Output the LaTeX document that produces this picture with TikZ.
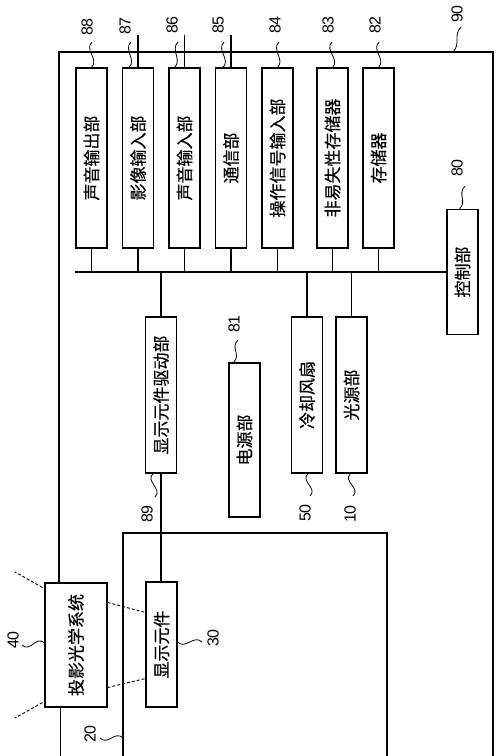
\documentclass[tikz,border=0pt]{standalone}
\usepackage{fontspec}
\setmainfont{Liberation Sans}
\newfontfamily\cjk[FakeBold=0.4]{Noto Sans CJK SC}
\usetikzlibrary{calc}
\begin{document}
\begin{tikzpicture}[x=1pt,y=-1pt,
  blk/.style={draw, line width=1.1pt, inner sep=0pt, minimum width=31pt, font=\cjk\fontsize{17}{17}\selectfont},
  lbl/.style={inner sep=0pt, font=\fontsize{16}{16}\selectfont},
  squig/.style={line width=0.8pt},
  ln/.style={line width=1.1pt},
  dsh/.style={line width=0.9pt, dash pattern=on 3pt off 2pt}]
\useasboundingbox (0,0) rectangle (500,756);
\fill[white] (0,0) rectangle (500,756);

% top row of boxes
\node[blk, minimum height=180pt] (b88) at (91.5,158) {\rotatebox{90}{声音输出部}};
\node[blk, minimum height=180pt] (b87) at (138,158) {\rotatebox{90}{影像输入部}};
\node[blk, minimum height=180pt] (b86) at (184.5,158) {\rotatebox{90}{声音输入部}};
\node[blk, minimum height=180pt] (b85) at (231,158) {\rotatebox{90}{通信部}};
\node[blk, minimum height=180pt] (b84) at (277.5,158) {\rotatebox{90}{操作信号输入部}};
\node[blk, minimum height=180pt] (b83) at (332.5,158) {\rotatebox{90}{非易失性存储器}};
\node[blk, minimum height=180pt] (b82) at (378.5,158) {\rotatebox{90}{存储器}};

% control
\node[blk, minimum height=125pt] (b80) at (462.5,272) {\rotatebox{90}{控制部}};

% lower boxes
\node[blk, minimum height=156pt] (b89) at (161,395) {\rotatebox{90}{显示元件驱动部}};
\node[blk, minimum height=154pt] (b81) at (244.5,440) {\rotatebox{90}{电源部}};
\node[blk, minimum height=156pt] (b50) at (307,395) {\rotatebox{90}{冷却风扇}};
\node[blk, minimum height=156pt] (b10) at (351.5,395) {\rotatebox{90}{光源部}};
\node[blk, minimum height=125pt] (b30) at (161.5,644.5) {\rotatebox{90}{显示元件}};
\node[blk, minimum height=124pt, minimum width=62pt] (b40) at (76,645) {\rotatebox{90}{投影光学系统}};

% labels
\node[lbl] (l88) at (87,27) {\rotatebox{90}{88}};
\node[lbl] (l87) at (125,26) {\rotatebox{90}{87}};
\node[lbl] (l86) at (172,25) {\rotatebox{90}{86}};
\node[lbl] (l85) at (218,25) {\rotatebox{90}{85}};
\node[lbl] (l84) at (275,25) {\rotatebox{90}{84}};
\node[lbl] (l83) at (328,25) {\rotatebox{90}{83}};
\node[lbl] (l82) at (375,25) {\rotatebox{90}{82}};
\node[lbl] (l90) at (457,14) {\rotatebox{90}{90}};
\node[lbl] (l80) at (457,168) {\rotatebox{90}{80}};
\node[lbl] (l81) at (234,324) {\rotatebox{90}{81}};
\node[lbl] (l89) at (147,514) {\rotatebox{90}{89}};
\node[lbl] (l50) at (305,513) {\rotatebox{90}{50}};
\node[lbl] (l10) at (350,514) {\rotatebox{90}{10}};
\node[lbl] (l20) at (90,734) {\rotatebox{90}{20}};
\node[lbl] (l30) at (213,638) {\rotatebox{90}{30}};
\node[lbl] (l40) at (13,640) {\rotatebox{90}{40}};

% outer frame 90
\coordinate (f90a) at (59,52);
\coordinate (f90b) at (493,52);
\coordinate (f90c) at (493,756);
\draw[ln] (f90a |- b40.north) -- (f90a) -- (f90b) -- (f90c);
\draw[ln] ($(b40.south west)+(16,0)$) -- ++(0,49);

% frame 20
\coordinate (f20a) at (123,756);
\coordinate (f20b) at (123,533);
\coordinate (f20c) at (387,533);
\coordinate (f20d) at (387,756);
\draw[ln] (f20a) -- (f20b) -- (f20c) -- (f20d);

% external lines
\draw[ln] (b87.north) -- ++(0,-32);
\draw[ln] (b86.north) -- ++(0,-32);
\draw[ln] (b85.north) -- ++(0,-32);

% bus
\coordinate (busL) at (75,272);
\draw[ln] (busL) -- (b80.west);
\foreach \b in {b88,b87,b86,b85,b84,b83,b82}{
  \draw[ln] (\b.south) -- (\b.south |- busL);
}
\draw[ln] (b89.north) -- (b89.north |- busL);
\draw[ln] (b50.north) -- (b50.north |- busL);
\draw[ln] (b10.north) -- (b10.north |- busL);
\draw[ln] (b89.south) -- (b89.south |- b30.north);

% dashed light paths
\draw[dsh] ($(b40.north east)+(0,20)$) -- ($(b30.north west)+(0,31)$);
\draw[dsh] ($(b40.south east)+(0,-20)$) -- ($(b30.south west)+(0,-29)$);
\coordinate (r1) at (15,572);
\coordinate (r2) at (15,718);
\draw[dsh] ($(b40.north west)+(-2,5)$) -- (r1);
\draw[dsh] ($(b40.south west)+(-2,-5)$) -- (r2);

% squiggle leader lines
\coordinate (s88) at (92,42);
\coordinate (s87) at (131,42);
\coordinate (s86) at (178,42);
\coordinate (s85) at (224,42);
\coordinate (s84) at (279,42);
\coordinate (s83) at (332,42);
\coordinate (s82) at (379,42);
\draw[squig] (s88) .. controls +(-8,8) and +(8,-8) .. (b88.north);
\draw[squig] (s87) .. controls +(-8,8) and +(8,-8) .. ($(b87.north)+(-9,0)$);
\draw[squig] (s86) .. controls +(-8,8) and +(8,-8) .. ($(b86.north)+(-10,0)$);
\draw[squig] (s85) .. controls +(-8,8) and +(8,-8) .. ($(b85.north)+(-8,0)$);
\draw[squig] (s84) .. controls +(-8,8) and +(8,-8) .. (b84.north);
\draw[squig] (s83) .. controls +(-8,8) and +(8,-8) .. (b83.north);
\draw[squig] (s82) .. controls +(-8,8) and +(8,-8) .. (b82.north);
\coordinate (s90) at (461,27);
\draw[squig] (s90) .. controls +(-8,8) and +(8,-8) .. (f90b -| 453,0);
\coordinate (s80) at (465,186);
\draw[squig] (s80) .. controls +(-8,8) and +(8,-8) .. ($(b80.north)+(-3,0)$);
\coordinate (s81) at (238,340);
\draw[squig] (s81) .. controls +(-8,8) and +(8,-8) .. ($(b81.north)+(-11,0)$);
\coordinate (s89) at (155,497);
\draw[squig] ($(b89.south)+(-8,0)$) .. controls +(-8,8) and +(8,-8) .. (s89);
\coordinate (s50) at (310,496);
\draw[squig] ($(b50.south)+(1,0)$) .. controls +(-8,8) and +(8,-8) .. (s50);
\coordinate (s10) at (353,496);
\draw[squig] ($(b10.south)+(-1,0)$) .. controls +(-8,8) and +(8,-8) .. (s10);
\coordinate (s20) at (100,738);
\draw[squig] (s20) .. controls +(8,8) and +(-8,-8) .. (f20b |- s20);
\coordinate (s30) at (202,642);
\draw[squig] ($(b30.east)+(0,-2.5)$) .. controls +(8,8) and +(-8,-8) .. (s30);
\coordinate (s40) at (22,645);
\draw[squig] (s40) .. controls +(8,8) and +(-8,-8) .. ($(b40.west)+(0,-2)$);
\end{tikzpicture}
\end{document}
